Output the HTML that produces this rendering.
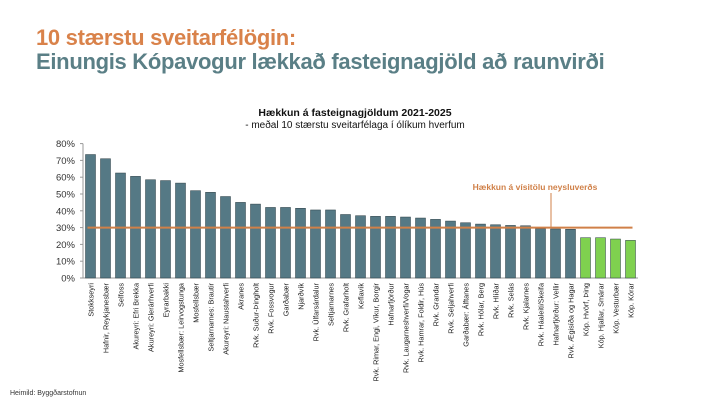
<!DOCTYPE html>
<html><head><meta charset="utf-8"><style>
body{margin:0;background:#fff;width:713px;height:400px;overflow:hidden;font-family:"Liberation Sans",sans-serif}
.t1{position:absolute;left:36px;top:25px;font-size:22px;font-weight:bold;color:#d9824a;letter-spacing:-0.3px}
.t2{position:absolute;left:36px;top:49px;font-size:22px;font-weight:bold;color:#5a7f86;letter-spacing:-0.3px}
</style></head><body>
<div class="t1">10 stærstu sveitarfélögin:</div>
<div class="t2">Einungis Kópavogur lækkað fasteignagjöld að raunvirði</div>
<svg id="chart" width="713" height="400" style="position:absolute;left:0;top:0">
<text x="355" y="116" text-anchor="middle" font-size="10.5" font-weight="bold" fill="#111">Hækkun á fasteignagjöldum 2021-2025</text>
<text x="355" y="128" text-anchor="middle" font-size="10" fill="#111">- meðal 10 stærstu sveitarfélaga í ólíkum hverfum</text>
<text x="10" y="395" font-size="7" fill="#333">Heimild: Byggðarstofnun</text>
</svg>
<script>
const categories=["Stokkseyri","Hafnir, Reykjanesbær","Selfoss","Akureyri: Efri Brekka","Akureyri: Glerárhverfi","Eyrarbakki","Mosfellsbær: Leirvogstunga","Mosfellsbær","Seltjarnarnes: Brautir","Akureyri: Naustahverfi","Akranes","Rvk. Suður-Þingholt","Rvk. Fossvogur","Garðabær","Njarðvík","Rvk. Úlfarsárdalur","Seltjarnarnes","Rvk. Grafarholt","Keflavík","Rvk. Rimar, Engi, Víkur, Borgir","Hafnarfjörður","Rvk. Laugarneshverfi/Vogar","Rvk. Hamrar, Foldir, Hús","Rvk. Grandar","Rvk. Seljahverfi","Garðabær: Álftanes","Rvk. Hólar, Berg","Rvk. Hlíðar","Rvk. Selás","Rvk. Kjalarnes","Rvk. Háaleiti/Skeifa","Hafnarfjörður: Vellir","Rvk. Ægisíða og Hagar","Kóp. Hvörf, Þing","Kóp. Hjallar, Smárar","Kóp. Vesturbær","Kóp. Kórar"];
const values=[73.5,71,62.5,60.5,58.5,58,56.5,52,51,48.5,45,44,42,42,41.5,40.5,40.5,37.8,37.1,36.7,36.7,36.3,35.7,34.9,33.9,32.9,32.1,31.7,31.3,31.1,29.4,29.2,29,24,24,23.2,22.4];
const cpiValue=[30];
const yTicks=[0,10,20,30,40,50,60,70,80];
const NS="http://www.w3.org/2000/svg";
const svg=document.getElementById('chart');
const x0=83,x1=638,yBase=278,yTop=143.6,yMax=80;
const band=(x1-x0)/categories.length;
const X=i=>x0+band*(i+0.5);
const Y=v=>yBase-(v/yMax)*(yBase-yTop);
function mk(tag,attrs){const e=document.createElementNS(NS,tag);for(const k in attrs)e.setAttribute(k,attrs[k]);svg.appendChild(e);return e;}
const ax=mk('line',{x1:x0,y1:yBase,x2:x1,y2:yBase,stroke:'#999','stroke-width':1});


const ay=mk('line',{x1:x0,y1:yTop,x2:x0,y2:yBase,stroke:'#999','stroke-width':1});


yTicks.forEach(t=>{
 const tk=mk('line',{x1:x0-3,y1:Y(t),x2:x0,y2:Y(t),stroke:'#999'});
 
 
 const tx=mk('text',{x:x0-8,y:Y(t)+3.5,'text-anchor':'end','font-size':9.5,fill:'#333'});
 tx.textContent=t+'%';
 
 
});
categories.forEach((c,i)=>{
 const v=values[i];const kop=c.startsWith('Kóp');
 const r=mk('rect',{x:X(i)-5,y:Y(v),width:10,height:yBase-Y(v),fill:kop?'#7fd14f':'#557985',stroke:'#2c3e44','stroke-width':0.5});
 
 
 const t=mk('text',{transform:`translate(${X(i)+3},${yBase+5}) rotate(-90)`,'text-anchor':'end','font-size':7.3,fill:'#222'});
 t.textContent=c;
 
 
});
const ry=Y(cpiValue[0]);
const rl=mk('line',{x1:X(0)-3,y1:ry,x2:X(categories.length-1)+2,y2:ry,stroke:'#d08048','stroke-width':2});


const cl=mk('line',{x1:551,y1:193,x2:551,y2:ry,stroke:'#d08048','stroke-width':1});


const ct=mk('text',{x:535,y:190,'text-anchor':'middle','font-size':8.5,'font-weight':'bold',fill:'#d08048'});
ct.textContent='Hækkun á vísitölu neysluverðs';


</script>
</body></html>
